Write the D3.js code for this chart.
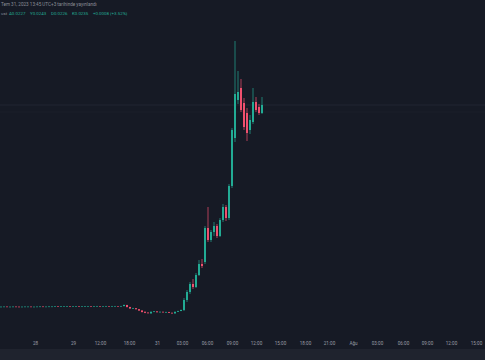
<!DOCTYPE html>
<html>
<head>
<meta charset="utf-8">
<script src="https://cdn.jsdelivr.net/npm/d3@7"></script>
<style>
  html, body { margin: 0; padding: 0; background: #161a25; overflow: hidden; }
  text { font-family: Roboto, "Noto Sans", sans-serif; }
</style>
</head>
<body>
<div id="chart"></div>
<script>
// Candles (bar index -> OHLC)
const opens = [
  0.00332,0.00333,0.00334,0.00333,0.00333,0.00334,0.00333,0.00332,0.00333,0.00334,
  0.00334,0.00333,0.00333,0.00334,0.00335,0.00334,0.00334,0.00335,0.00335,0.00336,
  0.00335,0.00336,0.00336,0.00337,0.00336,0.00337,0.00338,0.00337,0.00337,0.00338,
  0.00338,0.00337,0.00338,0.00339,0.00338,0.00338,0.00339,0.00338,0.00339,0.00339,
  0.00338,0.00340,0.00350,0.00330,0.00312,0.00318,0.00308,0.00295,0.00282,0.00274,
  0.00266,0.00280,0.00286,0.00278,0.00282,0.00276,0.00280,0.00272,0.00266,0.00282,
  0.00290,0.0030,0.0040,0.0048,0.0056,0.0053,0.0065,0.0076,0.0078,0.0112,
  0.0100,0.0108,0.0114,0.0104,0.0120,0.0133,0.0122,0.0154,0.0202,0.0240,
  0.0252,0.0237,0.0227,0.0210,0.0218,0.0238,0.0233,0.0227
];
const highs = [
  0.00335,0.00336,0.00335,0.00335,0.00336,0.00335,0.00334,0.00335,0.00336,0.00336,
  0.00335,0.00335,0.00336,0.00337,0.00336,0.00336,0.00337,0.00337,0.00338,0.00337,
  0.00338,0.00338,0.00339,0.00338,0.00339,0.00340,0.00339,0.00339,0.00340,0.00340,
  0.00339,0.00340,0.00341,0.00340,0.00340,0.00341,0.00340,0.00341,0.00341,0.00340,
  0.00342,0.00355,0.00352,0.00332,0.00322,0.00320,0.00310,0.00298,0.00285,0.00277,
  0.00285,0.00290,0.00288,0.00285,0.00284,0.00283,0.00282,0.00274,0.00284,0.00293,
  0.00305,0.0042,0.0050,0.0058,0.0061,0.0067,0.0080,0.0081,0.0114,0.0133,
  0.0110,0.0118,0.0116,0.0122,0.0136,0.0135,0.0156,0.0212,0.0299,0.0269,
  0.0261,0.0242,0.0232,0.0225,0.0252,0.0243,0.0236,0.0243
];
const lows = [
  0.00331,0.00332,0.00331,0.00332,0.00332,0.00331,0.00330,0.00331,0.00332,0.00333,
  0.00332,0.00332,0.00332,0.00333,0.00333,0.00333,0.00333,0.00334,0.00334,0.00334,
  0.00334,0.00335,0.00335,0.00335,0.00335,0.00336,0.00336,0.00336,0.00336,0.00337,
  0.00336,0.00336,0.00337,0.00337,0.00337,0.00337,0.00337,0.00337,0.00338,0.00337,
  0.00337,0.00335,0.00325,0.00312,0.00310,0.00305,0.00290,0.00275,0.00268,0.00264,
  0.00264,0.00278,0.00275,0.00276,0.00274,0.00274,0.00270,0.00262,0.00264,0.00280,
  0.00288,0.0029,0.0038,0.0046,0.0051,0.0052,0.0064,0.0072,0.0076,0.0098,
  0.0098,0.0104,0.0102,0.0103,0.0118,0.0119,0.0120,0.0152,0.0198,0.0236,
  0.0228,0.0210,0.0199,0.0206,0.0216,0.0228,0.0225,0.0226
];
const closes = [
  0.00333,0.00334,0.00333,0.00333,0.00334,0.00333,0.00332,0.00333,0.00334,0.00334,
  0.00333,0.00333,0.00334,0.00335,0.00334,0.00334,0.00335,0.00335,0.00336,0.00335,
  0.00336,0.00336,0.00337,0.00336,0.00337,0.00338,0.00337,0.00337,0.00338,0.00338,
  0.00337,0.00338,0.00339,0.00338,0.00338,0.00339,0.00338,0.00339,0.00339,0.00338,
  0.00340,0.00350,0.00330,0.00315,0.00318,0.00308,0.00295,0.00280,0.00272,0.00268,
  0.00282,0.00286,0.00278,0.00282,0.00276,0.00280,0.00272,0.00266,0.00282,0.00290,
  0.00300,0.0040,0.0048,0.0056,0.0053,0.0065,0.0076,0.0074,0.0112,0.0100,
  0.0108,0.0114,0.0104,0.0120,0.0133,0.0122,0.0154,0.0210,0.0246,0.0248,
  0.0230,0.0213,0.0207,0.0220,0.0238,0.0230,0.0227,0.0235
];

// Time axis labels and the bar index they sit on
const tickIdx = [11.33, 24, 33, 42.67, 52, 60.33, 68.67, 77, 85, 93, 101.33, 109.33, 117.33, 125.33, 134, 142, 150, 158.33];
const tickLabels = ["28", "29", "12:00", "18:00", "31", "03:00", "06:00", "09:00", "12:00", "15:00", "18:00", "21:00", "Ağu", "03:00", "06:00", "09:00", "12:00", "15:00"];

const width = 485, height = 360;
const paneBottom = 349;
const up = "#22ab94", down = "#f0506e";

const candles = opens.map((o, i) => ({ i, o, h: highs[i], l: lows[i], c: closes[i] }));

const svg = d3.select("#chart")
    .append("svg")
    .attr("width", width)
    .attr("height", height);

svg.append("rect").attr("width", width).attr("height", height).attr("fill", "#161a25");
svg.append("rect").attr("y", paneBottom).attr("width", width).attr("height", height - paneBottom).attr("fill", "#1f232e");

const x = d3.scaleLinear().domain([0, 161]).range([1, 484]);
const y = d3.scaleLinear().domain([0, 0.034]).range([340, 0]);

// faint grid / last price line
const last = candles[candles.length - 1];
svg.append("line")
    .attr("x1", 0).attr("x2", width)
    .attr("y1", y(last.c)).attr("y2", y(last.c))
    .attr("stroke", "#242935").attr("stroke-width", 0.8);
svg.append("line")
    .attr("x1", 0).attr("x2", width)
    .attr("y1", y(0.0228)).attr("y2", y(0.0228))
    .attr("stroke", "#1d212c").attr("stroke-width", 0.8);

const g = svg.append("g");
g.selectAll("line.wick")
    .data(candles)
    .join("line")
    .attr("class", "wick")
    .attr("x1", d => x(d.i)).attr("x2", d => x(d.i))
    .attr("y1", d => y(d.h)).attr("y2", d => y(d.l))
    .attr("stroke", d => d.c >= d.o ? up : down)
    .attr("stroke-width", 0.7);

g.selectAll("rect.body")
    .data(candles)
    .join("rect")
    .attr("class", "body")
    .attr("x", d => x(d.i) - 1)
    .attr("width", 2)
    .attr("y", d => y(Math.max(d.o, d.c)))
    .attr("height", d => Math.max(0.6, Math.abs(y(d.o) - y(d.c))))
    .attr("fill", d => d.c >= d.o ? up : down);

// time axis
const xAxis = svg.append("g")
    .attr("transform", `translate(0,${paneBottom - 4})`)
    .call(d3.axisBottom(x).tickValues(tickIdx).tickFormat((d, i) => tickLabels[i]).tickSize(0).tickPadding(0));
xAxis.select(".domain").remove();
xAxis.selectAll("text")
    .attr("dy", 0)
    .attr("font-size", "4.6px")
    .attr("fill", "#9a9da6");

// header
svg.append("text")
    .attr("x", 1).attr("y", 6)
    .attr("font-size", "4.6px")
    .attr("fill", "#8a8d96")
    .text("Tem 31, 2023 13:45 UTC+3 tarihinde yayınlandı");

const prev = candles[candles.length - 2];
const chg = last.c - prev.c;
const fmt = d3.format(".4f");
const hdr = svg.append("text")
    .attr("x", 1).attr("y", 15)
    .attr("font-size", "4.4px")
    .attr("fill", up);
hdr.append("tspan").attr("fill", "#8a8d96").text("ust ");
hdr.append("tspan").attr("x", 9).text("A" + fmt(last.o));
hdr.append("tspan").attr("x", 30).text("Y" + fmt(last.h));
hdr.append("tspan").attr("x", 51).text("D" + fmt(last.l));
hdr.append("tspan").attr("x", 72).text("K" + fmt(last.c));
hdr.append("tspan").attr("x", 93).text((chg >= 0 ? "+" : "") + fmt(chg) + " (" + (chg >= 0 ? "+" : "") + d3.format(".2f")(chg / prev.c * 100) + "%)");
</script>
</body>
</html>
